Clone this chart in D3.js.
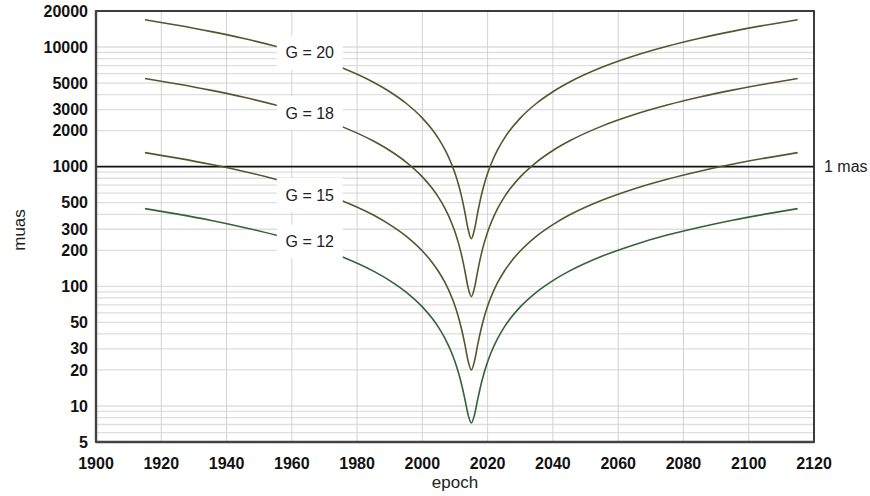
<!DOCTYPE html>
<html lang="en">
<head>
<meta charset="UTF-8">
<title>Position error vs epoch</title>
<script src="https://d3js.org/d3.v7.min.js"></script>
<style>
  body { margin: 0; background: #fff; }
  svg { display: block; font-family: Arial, "Liberation Sans", sans-serif; }
  .tick-label { font-size: 16px; font-weight: bold; fill: #111; }
  .axis-title { font-size: 17px; fill: #222; }
  .curve-label { font-size: 16px; fill: #222; }
</style>
</head>
<body>
<svg id="chart" width="870" height="496"></svg>
<script>
// epochs (years) shared by all curves
const epochs = [1915, 1925, 1935, 1945, 1955, 1965, 1975, 1985, 1990, 1995, 2000, 2003, 2005, 2007, 2009, 2010, 2011, 2012, 2013, 2014, 2015,
  2016, 2017, 2018, 2019, 2020, 2021, 2023, 2025, 2027, 2030, 2035, 2040, 2045, 2055, 2065, 2075, 2085, 2095, 2105, 2115];

// position uncertainty in muas
const g20 = [16900, 15210, 13520, 11830, 10140, 8450, 6765, 5076, 4232, 3389, 2547, 2043, 1708, 1375, 1044, 881, 721, 565, 420, 302, 250,
  302, 420, 565, 721, 881, 1044, 1375, 1708, 2043, 2547, 3389, 4232, 5076, 6765, 8450, 10140, 11830, 13520, 15210, 16900];
const g18 = [5450, 4905, 4361, 3816, 3271, 2726, 2182, 1637, 1365, 1093, 822, 659, 551, 444, 337, 285, 233, 183, 136, 98, 82,
  98, 136, 183, 233, 285, 337, 444, 551, 659, 822, 1093, 1365, 1637, 2182, 2726, 3271, 3816, 4361, 4905, 5450];
const g15 = [1310, 1179, 1048, 917, 786, 655, 524, 394, 328, 263, 197.5, 158.5, 132.5, 106.7, 81, 68.5, 56, 44, 33, 23.9, 20,
  23.9, 33, 44, 56, 68.5, 81, 106.7, 132.5, 158.5, 197.5, 263, 328, 394, 524, 655, 786, 917, 1048, 1179, 1310];
const g12 = [446, 401, 357, 312, 268, 223, 178.5, 134, 111.7, 89.5, 67.3, 54, 45.2, 36.4, 27.7, 23.4, 19.2, 15.2, 11.5, 8.5, 7.2,
  8.5, 11.5, 15.2, 19.2, 23.4, 27.7, 36.4, 45.2, 54, 67.3, 89.5, 111.7, 134, 178.5, 223, 268, 312, 357, 401, 446];

const seriesNames = ["G = 20", "G = 18", "G = 15", "G = 12"];
const seriesValues = [g20, g18, g15, g12];
const seriesColors = ["#55552f", "#55552f", "#55552f", "#336338"];

// where the curve labels sit (epoch, muas)
const labelEpochs = [1965.5, 1965.5, 1965.5, 1965.5];
const labelValues = [8960, 2810, 580, 236];

const yTickValues = [5, 10, 20, 30, 50, 100, 200, 300, 500, 1000, 2000, 3000, 5000, 10000, 20000];
const xTickValues = [1900, 1920, 1940, 1960, 1980, 2000, 2020, 2040, 2060, 2080, 2100, 2120];
const refValue = 1000;
const refLabel = "1 mas";

const margin = { top: 11, right: 56, bottom: 54, left: 96 };
const W = 870, H = 496;
const w = W - margin.left - margin.right;
const h = H - margin.top - margin.bottom;

const svg = d3.select("#chart");
const g = svg.append("g").attr("transform", `translate(${margin.left},${margin.top})`);

const x = d3.scaleLinear().domain([1900, 2120]).range([0, w]);
const y = d3.scaleLog().domain([5, 20000]).range([h, 0]);

// grid
g.append("g").selectAll("line")
  .data(y.ticks().filter(v => v !== refValue))
  .join("line")
  .attr("x1", 0).attr("x2", w)
  .attr("y1", d => y(d)).attr("y2", d => y(d))
  .attr("stroke", "#dedede").attr("stroke-width", 1.3);

g.append("g").selectAll("line")
  .data(xTickValues)
  .join("line")
  .attr("x1", d => x(d)).attr("x2", d => x(d))
  .attr("y1", 0).attr("y2", h)
  .attr("stroke", "#d2d2d2").attr("stroke-width", 1);

// 1 mas reference line
g.append("line")
  .attr("x1", 0).attr("x2", w)
  .attr("y1", y(refValue)).attr("y2", y(refValue))
  .attr("stroke", "#111").attr("stroke-width", 1.6);

g.append("text")
  .attr("class", "curve-label")
  .attr("x", w + 10).attr("y", y(refValue))
  .attr("dy", "0.35em")
  .text(refLabel);

// curves
const line = d3.line()
  .x(d => x(d[0]))
  .y(d => y(d[1]))
  .curve(d3.curveMonotoneX);

seriesValues.forEach((vals, i) => {
  g.append("path")
    .datum(epochs.map((e, k) => [e, vals[k]]))
    .attr("d", line)
    .attr("fill", "none")
    .attr("stroke", seriesColors[i])
    .attr("stroke-width", 1.6);
});

// curve labels on white boxes
seriesNames.forEach((name, i) => {
  const cx = x(labelEpochs[i]), cy = y(labelValues[i]);
  g.append("rect")
    .attr("x", cx - 33).attr("y", cy - 17)
    .attr("width", 66).attr("height", 34)
    .attr("fill", "#fff");
  g.append("text")
    .attr("class", "curve-label")
    .attr("x", cx).attr("y", cy)
    .attr("dy", "0.35em")
    .attr("text-anchor", "middle")
    .text(name);
});

// frame
g.append("rect")
  .attr("width", w).attr("height", h)
  .attr("fill", "none")
  .attr("stroke", "#2a2a2a").attr("stroke-width", 1.8);
g.append("line")
  .attr("x1", 0).attr("x2", 0).attr("y1", 0).attr("y2", h)
  .attr("stroke", "#444").attr("stroke-width", 2.4);
g.append("line")
  .attr("x1", 0).attr("x2", w).attr("y1", h).attr("y2", h)
  .attr("stroke", "#444").attr("stroke-width", 2.4);

// tick labels
g.append("g").selectAll("text")
  .data(yTickValues)
  .join("text")
  .attr("class", "tick-label")
  .attr("x", -8).attr("y", d => y(d))
  .attr("dy", "0.35em")
  .attr("text-anchor", "end")
  .text(d => d);

g.append("g").selectAll("text")
  .data(xTickValues)
  .join("text")
  .attr("class", "tick-label")
  .attr("x", d => x(d)).attr("y", h + 21)
  .attr("dy", "0.35em")
  .attr("text-anchor", "middle")
  .text(d => d);

// axis titles
svg.append("text")
  .attr("class", "axis-title")
  .attr("x", 455).attr("y", 482)
  .attr("dy", "0.35em")
  .attr("text-anchor", "middle")
  .text("epoch");

svg.append("text")
  .attr("class", "axis-title")
  .attr("transform", "translate(19,230) rotate(-90)")
  .attr("dy", "0.35em")
  .attr("text-anchor", "middle")
  .text("muas");
</script>
</body>
</html>
